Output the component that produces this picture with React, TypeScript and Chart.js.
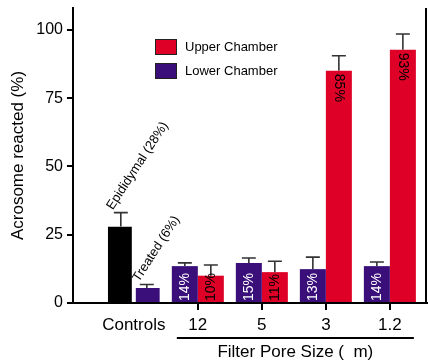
import React, { useEffect, useRef } from 'react';
import { Chart, registerables } from 'chart.js';

Chart.register(...registerables);

// ---- data ----
const categories = ['Controls', '12', '5', '3', '1.2'];
// left bar of each group: Controls = Epididymal (black); others = Lower Chamber
const leftValues = [28, 13.5, 14.6, 12.4, 13.5];
const leftErrors = [5.1, 1.2, 1.9, 4.4, 1.5];
const leftLabels = ['', '14%', '15%', '13%', '14%'];
// right bar of each group: Controls = Treated (purple); others = Upper Chamber
const rightValues = [5.5, 10, 11.3, 85, 92.7];
const rightErrors = [1.3, 3.9, 4.0, 5.5, 5.8];
const rightLabels = ['', '10%', '11%', '85%', '93%'];
const controlNotes = ['Epididymal (28%)', 'Treated (6%)'];
const yTicks = [0, 25, 50, 75, 100];
const legendLabels = ['Upper Chamber', 'Lower Chamber'];
const xTitle = 'Filter Pore Size (  m)';
const yTitle = 'Acrosome reacted (%)';

const RED = '#DF0027';
const PURPLE = '#3B0F7A';
const FONT = "'Liberation Sans', Arial, Helvetica, sans-serif";

const overlayPlugin = {
  id: 'overlay',
  afterDatasetsDraw(chart: any) {
    const ctx = chart.ctx;
    const y = chart.scales.y;
    const x = chart.scales.x;
    const area = chart.chartArea;
    const errs = [leftErrors, rightErrors];
    const vals = [leftValues, rightValues];
    ctx.save();
    // error bars
    [0, 1].forEach((d) => {
      const meta = chart.getDatasetMeta(d);
      meta.data.forEach((el: any, i: number) => {
        const top = y.getPixelForValue(vals[d][i] + errs[d][i]);
        ctx.strokeStyle = '#333';
        ctx.lineWidth = 1.6;
        ctx.beginPath();
        ctx.moveTo(el.x, el.y);
        ctx.lineTo(el.x, top);
        ctx.moveTo(el.x - 7, top);
        ctx.lineTo(el.x + 7, top);
        ctx.stroke();
      });
    });
    // value labels inside bars
    ctx.font = `14px ${FONT}`;
    ctx.textBaseline = 'middle';
    ctx.textAlign = 'left';
    [0, 1].forEach((d) => {
      const meta = chart.getDatasetMeta(d);
      const labels = d === 0 ? leftLabels : rightLabels;
      meta.data.forEach((el: any, i: number) => {
        if (!labels[i]) return;
        ctx.save();
        ctx.fillStyle = d === 0 ? '#fff' : '#000';
        if (vals[d][i] > 50) {
          ctx.translate(el.x, el.y + 3);
          ctx.rotate(Math.PI / 2);
        } else {
          ctx.translate(el.x, el.base - 1);
          ctx.rotate(-Math.PI / 2);
        }
        ctx.fillText(labels[i], 0, 0);
        ctx.restore();
      });
    });
    // control annotations
    ctx.font = `13px ${FONT}`;
    ctx.fillStyle = '#000';
    ctx.textBaseline = 'alphabetic';
    [0, 1].forEach((d) => {
      const el: any = chart.getDatasetMeta(d).data[0];
      const top = y.getPixelForValue(vals[d][0] + errs[d][0]);
      ctx.save();
      ctx.translate(el.x - el.width / 2 + 5, top - 2);
      ctx.rotate((-57 * Math.PI) / 180);
      ctx.fillText(controlNotes[d], 0, 0);
      ctx.restore();
    });
    // legend
    const lx = area.left + 82;
    const ly = area.top + 31;
    [RED, PURPLE].forEach((c, i) => {
      const by = ly + i * 24;
      ctx.fillStyle = c;
      ctx.fillRect(lx, by, 22, 16);
      ctx.strokeStyle = '#222';
      ctx.lineWidth = 1;
      ctx.strokeRect(lx + 0.5, by + 0.5, 21, 15);
      ctx.fillStyle = '#000';
      ctx.font = `13px ${FONT}`;
      ctx.textBaseline = 'middle';
      ctx.fillText(legendLabels[i], lx + 30, by + 8.5);
    });
    // right frame line
    ctx.strokeStyle = '#000';
    ctx.lineWidth = 2;
    ctx.beginPath();
    ctx.moveTo(area.right - 1, area.top);
    ctx.lineTo(area.right - 1, area.bottom + 1);
    ctx.stroke();
    // bracket under pore sizes + title
    const x1 = x.getPixelForValue(1) - 21;
    const x2 = x.getPixelForValue(4) + 24;
    ctx.beginPath();
    ctx.moveTo(x1, 338);
    ctx.lineTo(x2, 338);
    ctx.stroke();
    ctx.font = `17px ${FONT}`;
    ctx.textAlign = 'center';
    ctx.textBaseline = 'middle';
    ctx.fillText(xTitle, (x1 + x2) / 2, 352);
    ctx.restore();
  },
};

export default function App() {
  const ref = useRef<HTMLCanvasElement>(null);
  useEffect(() => {
    if (!ref.current) return;
    const chart = new Chart(ref.current, {
      type: 'bar',
      data: {
        datasets: [
          {
            label: 'left',
            data: leftValues.map((v, i) => ({ x: i, y: v })),
            backgroundColor: leftValues.map((_, i) => (i === 0 ? '#000' : PURPLE)),
            borderColor: '#fff',
            borderSkipped: false,
            borderWidth: (c: any) => (c.dataIndex === 0 ? { top: 0, bottom: 0, left: 0, right: 2 } : 0),
          },
          {
            label: 'right',
            data: rightValues.map((v, i) => ({ x: i, y: v })),
            backgroundColor: rightValues.map((_, i) => (i === 0 ? PURPLE : RED)),
            borderColor: '#fff',
            borderSkipped: false,
            borderWidth: (c: any) => (c.dataIndex === 0 ? { top: 0, bottom: 0, left: 2, right: 0 } : 0),
          },
        ],
      } as any,
      options: {
        animation: false,
        responsive: false,
        devicePixelRatio: 1,
        layout: { padding: { top: 8, right: 1, left: 0, bottom: 0 } },
        datasets: { bar: { categoryPercentage: 0.8125, barPercentage: 1 } },
        plugins: { legend: { display: false }, tooltip: { enabled: false } },
        scales: {
          x: {
            type: 'linear',
            min: -0.95,
            max: 4.58,
            offset: false,
            afterBuildTicks: (s: any) => {
              s.ticks = categories.map((_, i) => ({ value: i }));
            },
            afterFit: (s: any) => {
              s.height = 61;
              s.paddingLeft = 0;
              s.paddingRight = 0;
            },
            ticks: {
              callback: (v: any) => categories[v] ?? '',
              font: { size: 17, family: FONT },
              color: '#000',
              padding: 5,
              maxRotation: 0,
              autoSkip: false,
            },
            grid: {
              offset: false,
              drawOnChartArea: false,
              drawTicks: true,
              tickLength: 7,
              lineWidth: 2,
              color: (c: any) => (c.index === 0 ? 'rgba(0,0,0,0)' : '#000'),
            },
            border: { display: true, color: '#000', width: 2 },
          },
          y: {
            min: 0,
            max: 108,
            afterBuildTicks: (s: any) => {
              s.ticks = yTicks.map((v) => ({ value: v }));
            },
            afterFit: (s: any) => {
              s.width = 73;
              s.paddingTop = 0;
              s.paddingBottom = 0;
            },
            ticks: { font: { size: 16, family: FONT }, color: '#000', padding: 4 },
            grid: { drawOnChartArea: false, tickLength: 6, lineWidth: 2, color: '#000' },
            border: { display: true, color: '#000', width: 2 },
            title: {
              display: true,
              text: yTitle,
              color: '#000',
              font: { size: 17, family: FONT },
              padding: { top: 8, bottom: 0 },
            },
          },
        },
      } as any,
      plugins: [overlayPlugin],
    });
    return () => chart.destroy();
  }, []);
  return (
    <div style={{ position: 'absolute', left: 0, top: 0, width: 428, height: 364 }}>
      <canvas ref={ref} width={428} height={364} />
    </div>
  );
}
